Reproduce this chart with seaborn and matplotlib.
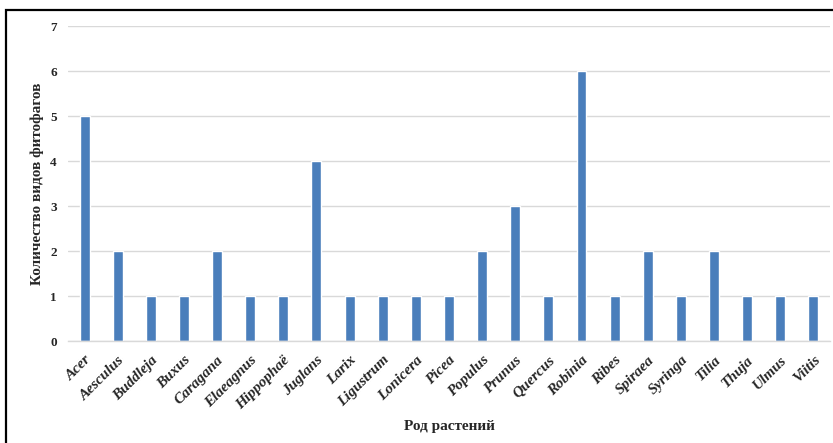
import seaborn as sns
import matplotlib.pyplot as plt
import matplotlib.patches as mpatches
import pandas as pd

sns.set_theme(style="white")
plt.rcParams['font.family'] = ['Liberation Serif', 'DejaVu Serif']

genera = ["Acer", "Aesculus", "Buddleja", "Buxus", "Caragana", "Elaeagnus", "Hippophaë",
          "Juglans", "Larix", "Ligustrum", "Lonicera", "Picea", "Populus", "Prunus",
          "Quercus", "Robinia", "Ribes", "Spiraea", "Syringa", "Tilia", "Thuja",
          "Ulmus", "Viitis"]
counts = [5, 2, 1, 1, 2, 1, 1, 4, 1, 1, 1, 1, 2, 3, 1, 6, 1, 2, 1, 2, 1, 1, 1]
df = pd.DataFrame({"genus": genera, "count": counts})

fig = plt.figure(figsize=(8.33, 4.43), dpi=100)
ax = fig.add_axes([0.0816, 0.2302, 0.9148, 0.7111])

sns.barplot(data=df, x="genus", y="count", color="#4a7ebb", saturation=1,
            width=0.3, ax=ax)

ax.set_ylim(0, 7)
ax.set_xlim(-0.5, len(genera) - 0.5)
ax.set_yticks(range(0, 8))
ax.yaxis.grid(True, color="#d9d9d9", linewidth=1)
ax.set_axisbelow(True)
for s in ["top", "right", "left"]:
    ax.spines[s].set_visible(False)
ax.spines["bottom"].set_color("#d9d9d9")
ax.spines["bottom"].set_linewidth(1)
ax.tick_params(axis="both", length=0)
ax.tick_params(axis="y", pad=8)
ax.tick_params(axis="x", pad=9)

for t in ax.get_yticklabels():
    t.set_fontsize(9.5)
    t.set_fontweight("bold")
ax.set_xticks(range(len(genera)))
ax.set_xticklabels(genera, rotation=45, ha="right", rotation_mode="anchor",
                   fontsize=11, fontweight="bold", fontstyle="italic")

ax.set_ylabel("Количество видов фитофагов", fontsize=11, fontweight="bold")
ax.yaxis.set_label_coords(-0.032, 0.5)
ax.set_xlabel("Род растений", fontsize=11, fontweight="bold")
ax.xaxis.set_label_coords(0.501, -0.251)

# frame of the embedded chart
frame = mpatches.Rectangle((6 / 833, -0.1), 1.2, 1.1 - 10 / 443,
                           transform=fig.transFigure, fill=False,
                           edgecolor="black", linewidth=1.6, clip_on=False)
fig.patches.append(frame)

fig.savefig("out.png", dpi=100)
